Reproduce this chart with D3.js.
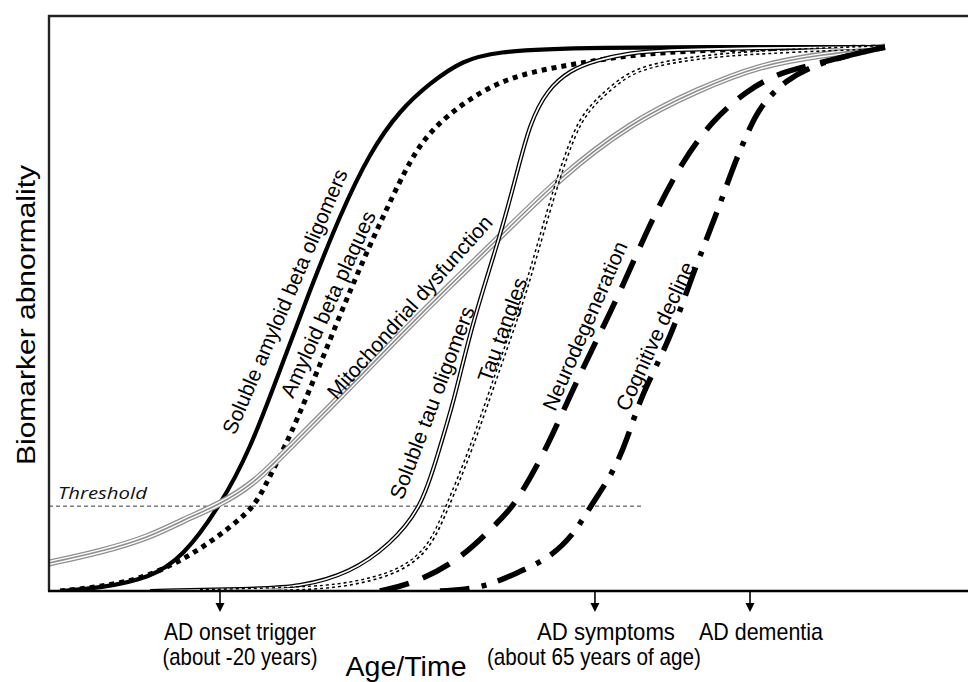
<!DOCTYPE html>
<html><head><meta charset="utf-8">
<script src="https://cdn.jsdelivr.net/npm/d3@7"></script>
<style>body{margin:0;background:#fff}svg{display:block}</style>
</head><body>
<svg id="chart" width="968" height="682"></svg>
<script>
// ---------- DATA (age in years, biomarker abnormality in % of maximum) ----------
const seriesNames = ["Soluble amyloid beta oligomers","Amyloid beta plaques","Mitochondrial dysfunction",
  "Soluble tau oligomers","Tau tangles","Neurodegeneration","Cognitive decline"];

const abOligomersAge = [36.47,38.6,41.27,43.03,45,46.6,48.2,49.8,51.4,53,54.6,56.2,57.96,59.77,63.29,80.47];
const abOligomersVal = [0,0.55,2.39,6.25,15.63,25.92,40.63,55.33,69.12,80.7,88.42,93.38,97.61,99.08,100,100];

const abPlaquesAge = [36.47,38.6,41.27,43.93,45.69,46.87,47.56,48.73,50.33,52.09,53.85,55.2,56.25,57.96,59.77,61.53,64.2,66.87,70.6,75.93,80.47];
const abPlaquesVal = [0,0.74,2.57,7.54,12.13,15.63,20.4,28.31,41.54,56.62,70.04,79.6,84.74,89.71,93.38,95.4,97.06,98.53,99.45,99.82,100];

const mitoAge = [35.88,38.6,41.27,43.03,44.84,46.87,48.73,51.93,54.6,57.27,59.93,63.13,66.87,70.44,73.8,77,80.47];
const mitoVal = [5.15,7.17,9.93,13.05,15.63,19.85,26.47,37.5,47.06,56.25,65.07,76.1,86.03,92.1,96.69,98.53,100];

const tauOligomersAge = [41.27,46.6,49.27,51.93,54.07,55.77,56.6,57.5,58.42,59.93,60.84,61.53,62.44,63.67,65.11,66.87,68.63,73.27,80.47];
const tauOligomersVal = [0,0.37,0.74,3.31,8.46,15.44,25.0,35.11,48.9,65.07,76.84,86.03,92.1,95.77,97.61,98.9,99.45,99.82,100];

const tauTanglesAge = [43.93,49.27,51.93,54.6,56.2,57.11,58.33,59.77,61.16,62.07,62.97,63.51,64.2,65.11,66.33,67.51,70.44,73.8,80.47];
const tauTanglesVal = [0,0.37,1.1,3.49,7.9,15.44,25.37,40.07,53.49,64.52,75.0,80.51,86.58,90.26,93.93,96.32,98.16,99.08,100];

const neuroAge = [53.53,55.4,57.8,59.93,60.63,62.23,64.2,66.17,67.93,69.69,71.29,73.11,74.87,75.93,78.6,80.47];
const neuroVal = [0,1.47,5.7,13.05,15.44,24.63,40.07,53.49,67.65,79.23,86.58,92.1,95.22,96.14,98.53,100];

const cognitionAge = [56.73,58.87,60.84,62.6,63.93,64.73,65.96,66.71,67.51,69,70.23,71.51,72.36,73.27,73.8,75.13,77,80.47];
const cognitionVal = [0,0.37,3.31,6.07,10.66,15.44,21.69,27.76,36.4,46.14,58.46,69.49,77.94,85.29,88.97,93.93,97.24,100];

const thresholdValue = 15.6;
const thresholdEndAge = 67.5;

const eventAges = [45, 65, 73.27];
const eventLine1 = ["AD onset trigger","AD symptoms","AD dementia"];
const eventLine2 = ["(about -20 years)","(about 65 years of age)",""];

// ---------- LAYOUT / STYLE ----------
const W = 968, H = 682;
const plotLeft = 49, plotRight = 969, plotTop = 16, plotBottom = 591;
const x = d3.scaleLinear().domain([35.88, 84.95]).range([plotLeft, plotRight]);
const y = d3.scaleLinear().domain([0, 100]).range([plotBottom, 47]);

const svg = d3.select("#chart");
const FONT = "'Liberation Sans', Arial, Helvetica, sans-serif";

const seriesData = [
  [abOligomersAge, abOligomersVal],
  [abPlaquesAge, abPlaquesVal],
  [mitoAge, mitoVal],
  [tauOligomersAge, tauOligomersVal],
  [tauTanglesAge, tauTanglesVal],
  [neuroAge, neuroVal],
  [cognitionAge, cognitionVal]
].map(([a, v]) => a.map((d, i) => [d, v[i]]));

const styles = [
  [{stroke:"#000", w:4.2}],
  [{stroke:"#000", w:5, dash:"5,5"}],
  [{stroke:"#8e8e8e", w:7}, {stroke:"#fff", w:4.4}, {stroke:"#8e8e8e", w:1.6}],
  [{stroke:"#000", w:4.2}, {stroke:"#fff", w:1.6}],
  [{stroke:"#000", w:4.4, dash:"3,3"}, {stroke:"#fff", w:1.4}],
  [{stroke:"#000", w:5.5, dash:"30,15"}],
  [{stroke:"#000", w:5.5, dash:"30,12,5,12"}]
];

// label placement (centre in data units, rotation deg, length px)
const labelPos = [
  [48.55, 53.1, -66.7, 286],
  [50.85, 52.57, -65.7, 202],
  [55.19, 52.0, -48.4, 237],
  [56.4, 34.5, -69.3, 204],
  [60.15, 47.9, -70.2, 109],
  [64.55, 48.6, -66.4, 182],
  [68.29, 46.7, -65.5, 161]
];

const line = d3.line().x(d => x(d[0])).y(d => y(d[1])).curve(d3.curveBasis);

svg.append("defs").append("clipPath").attr("id","clip")
  .append("rect").attr("x", plotLeft).attr("y", plotTop).attr("width", plotRight - plotLeft).attr("height", plotBottom - plotTop);

// threshold
svg.append("line")
  .attr("x1", x(x.domain()[0])).attr("x2", x(thresholdEndAge))
  .attr("y1", y(thresholdValue)).attr("y2", y(thresholdValue))
  .attr("stroke", "#222").attr("stroke-width", 0.9).attr("stroke-dasharray", "4,3");
svg.append("text").text("Threshold")
  .attr("x", 58).attr("y", y(thresholdValue) - 7)
  .attr("font-family", "'Open Sans', 'Noto Sans', sans-serif").attr("font-style","italic")
  .attr("font-size", 17).attr("fill", "#111")
  .attr("textLength", 89).attr("lengthAdjust","spacingAndGlyphs");

// curves
const g = svg.append("g").attr("clip-path","url(#clip)");
seriesData.forEach((pts, i) => {
  styles[i].forEach(s => {
    g.append("path").attr("d", line(pts))
      .attr("fill","none").attr("stroke", s.stroke).attr("stroke-width", s.w)
      .attr("stroke-dasharray", s.dash || null)
      .attr("stroke-linejoin","round");
  });
});

// curve labels
seriesNames.forEach((name, i) => {
  const [a, v, rot, len] = labelPos[i];
  svg.append("text").text(name)
    .attr("transform", `translate(${x(a)},${y(v)}) rotate(${rot})`)
    .attr("text-anchor","middle").attr("dominant-baseline","central").attr("dy", -2)
    .attr("font-family", FONT).attr("font-size", 21).attr("fill","#000")
    .attr("textLength", len).attr("lengthAdjust","spacingAndGlyphs");
});

// frame
svg.append("line").attr("x1", plotLeft).attr("x2", plotLeft).attr("y1", plotTop - 1).attr("y2", plotBottom)
  .attr("stroke","#222").attr("stroke-width",2.4);
svg.append("line").attr("x1", plotLeft - 1).attr("x2", W).attr("y1", plotTop).attr("y2", plotTop)
  .attr("stroke","#222").attr("stroke-width",2.4);
svg.append("line").attr("x1", plotLeft - 1).attr("x2", W).attr("y1", plotBottom).attr("y2", plotBottom)
  .attr("stroke","#000").attr("stroke-width",2.4);

// event arrows + labels
const labelDx = [[20, 20], [11, -1], [11, 0]];
eventAges.forEach((a, i) => {
  const ax = x(a);
  svg.append("line").attr("x1", ax).attr("x2", ax).attr("y1", plotBottom).attr("y2", plotBottom + 14)
    .attr("stroke","#000").attr("stroke-width",1.6);
  svg.append("path").attr("d", `M${ax-4.5},${plotBottom+12} L${ax+4.5},${plotBottom+12} L${ax},${plotBottom+21} Z`)
    .attr("fill","#000");
  svg.append("text").text(eventLine1[i])
    .attr("x", ax + labelDx[i][0]).attr("y", 640)
    .attr("text-anchor","middle").attr("font-family", FONT).attr("font-size", 24)
    .attr("textLength", [152,138,124][i]).attr("lengthAdjust","spacingAndGlyphs");
  if (eventLine2[i]) {
    svg.append("text").text(eventLine2[i])
      .attr("x", ax + labelDx[i][1]).attr("y", 665)
      .attr("text-anchor","middle").attr("font-family", FONT).attr("font-size", 24)
      .attr("textLength", [155,214][i]).attr("lengthAdjust","spacingAndGlyphs");
  }
});

// axis titles
svg.append("text").text("Age/Time")
  .attr("x", 406).attr("y", 676).attr("text-anchor","middle")
  .attr("font-family", FONT).attr("font-size", 28)
  .attr("textLength", 121).attr("lengthAdjust","spacingAndGlyphs");
svg.append("text").text("Biomarker abnormality")
  .attr("transform", "translate(35,315) rotate(-90)").attr("text-anchor","middle")
  .attr("font-family", FONT).attr("font-size", 25)
  .attr("textLength", 300).attr("lengthAdjust","spacingAndGlyphs");
</script>
</body></html>
